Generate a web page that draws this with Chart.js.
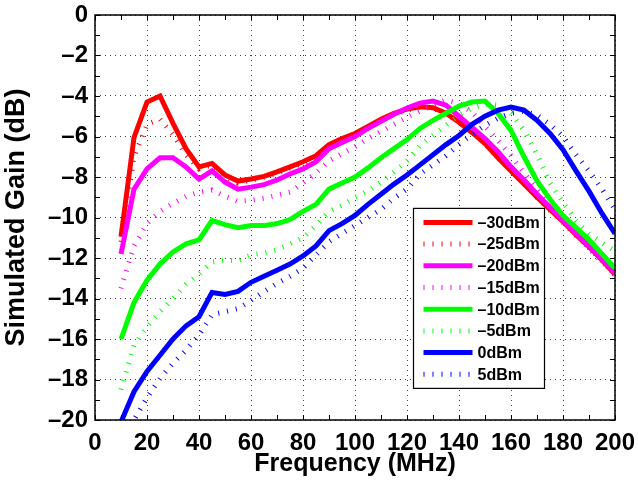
<!DOCTYPE html>
<html>
<head>
<meta charset="utf-8">
<script src="https://cdn.jsdelivr.net/npm/chart.js@4/dist/chart.umd.min.js"></script>
<style>
  body { margin: 0; background: #fff; }
  #grafico { display: block; }
</style>
</head>
<body>
<canvas id="grafico" width="638" height="485"></canvas>
<script>
// frecuencias (MHz)
var freq = [10, 15, 20, 25, 30, 35, 40, 45, 50, 55, 60, 65, 70, 75, 80, 85, 90, 95, 100, 105,
            110, 115, 120, 125, 130, 135, 140, 145, 150, 155, 160, 165, 170, 175, 180, 185, 190, 195, 200];

var nombres = ['-30dBm', '-25dBm', '-20dBm', '-15dBm', '-10dBm', '-5dBm', '0dBm', '5dBm'];

var g30 = [-10.95, -6.05, -4.3, -4.0, -5.35, -6.6, -7.5, -7.33, -7.9, -8.2, -8.1, -7.97, -7.75, -7.5, -7.25, -6.95, -6.4, -6.1, -5.85, -5.5,
           -5.15, -4.85, -4.65, -4.53, -4.58, -4.85, -5.3, -5.8, -6.35, -7.05, -7.7, -8.35, -9.0, -9.6, -10.2, -10.85, -11.45, -12.1, -12.8];
var g25 = [-11.2, -7.0, -5.4, -5.15, -5.9, -6.9, -7.6, -7.4, -8.0, -8.3, -8.15, -8.0, -7.8, -7.55, -7.3, -7.0, -6.45, -6.15, -5.9, -5.55,
           -5.2, -4.9, -4.7, -4.55, -4.6, -4.85, -5.3, -5.8, -6.35, -7.05, -7.7, -8.35, -9.0, -9.65, -10.25, -10.9, -11.5, -12.15, -12.85];
var g20 = [-11.8, -8.6, -7.6, -7.05, -7.05, -7.5, -8.1, -7.7, -8.25, -8.6, -8.5, -8.38, -8.15, -7.85, -7.6, -7.25, -6.6, -6.3, -6.0, -5.6,
           -5.25, -4.9, -4.6, -4.35, -4.25, -4.45, -5.0, -5.55, -6.1, -6.75, -7.5, -8.15, -8.85, -9.5, -10.15, -10.8, -11.4, -12.05, -12.75];
var g15 = [-13.5, -11.4, -10.3, -9.7, -9.3, -8.95, -8.75, -8.65, -8.95, -9.2, -9.15, -9.05, -8.9, -8.75, -8.3, -7.8, -7.2, -6.85, -6.5, -6.1,
           -5.75, -5.4, -5.05, -4.75, -4.45, -4.2, -4.35, -4.8, -5.5, -6.2, -6.95, -7.8, -8.6, -9.4, -10.1, -10.8, -11.55, -12.2, -12.8];
var g10 = [-16.0, -14.2, -13.1, -12.3, -11.7, -11.3, -11.1, -10.15, -10.35, -10.5, -10.4, -10.4, -10.3, -10.1, -9.7, -9.35, -8.6, -8.3, -8.0, -7.55,
           -7.05, -6.6, -6.15, -5.6, -5.2, -4.85, -4.5, -4.3, -4.25, -4.85, -5.7, -7.0, -8.2, -9.1, -9.9, -10.5, -11.1, -11.8, -12.5];
var g5 = [-18.5, -16.3, -15.4, -14.65, -14.0, -13.3, -12.8, -12.2, -12.1, -12.15, -11.85, -11.75, -11.6, -11.3, -11.0, -10.4, -9.7, -9.4, -9.0, -8.7,
          -8.25, -7.75, -7.2, -6.45, -5.95, -5.45, -4.95, -4.6, -4.4, -4.45, -4.85, -5.7, -6.9, -8.3, -9.25, -10.15, -10.8, -11.25, -11.65];
var g0 = [-20.1, -18.6, -17.6, -16.8, -16.0, -15.35, -14.9, -13.7, -13.8, -13.65, -13.2, -12.9, -12.6, -12.3, -11.9, -11.4, -10.65, -10.3, -9.9, -9.35,
          -8.85, -8.35, -7.9, -7.4, -6.9, -6.4, -5.95, -5.4, -5.0, -4.7, -4.55, -4.7, -5.2, -5.85, -6.65, -7.7, -8.7, -9.8, -10.8];
var gp5 = [-21.5, -20.0, -18.9, -17.95, -17.2, -16.55, -15.8, -14.8, -14.65, -14.5, -14.1, -13.65, -13.25, -12.9, -12.5, -11.85, -11.2, -10.8, -10.4, -10.0,
           -9.6, -9.05, -8.6, -7.85, -7.4, -6.95, -6.4, -5.9, -5.45, -5.1, -4.85, -4.75, -4.95, -5.4, -6.0, -6.9, -7.7, -8.6, -9.6];

// ejes
var xTicks = [0, 20, 40, 60, 80, 100, 120, 140, 160, 180, 200];
var yTicks = [0, -2, -4, -6, -8, -10, -12, -14, -16, -18, -20];

var series = [g30, g25, g20, g15, g10, g5, g0, gp5];
var colores = ['#ff0000', '#ff0000', '#ff00ff', '#ff00ff', '#00ff00', '#00ff00', '#0000ff', '#0000ff'];

var FUENTE = '"Liberation Sans", Arial, Helvetica, sans-serif';

function menos(s) {
    return String(s).replace('-', '\u2013');
}

function puntos(valores) {
    var p = [];
    for (var i = 0; i < freq.length; i++) {
        p.push({ x: freq[i], y: valores[i] });
    }
    return p;
}

var datasets = [];
for (var i = 0; i < series.length; i++) {
    var punteada = (i % 2 == 1);
    datasets.push({
        label: nombres[i],
        data: puntos(series[i]),
        borderColor: colores[i],
        borderWidth: punteada ? 5 : 5,
        borderDash: punteada ? [1, 8] : [],
        borderCapStyle: 'butt',
        borderJoinStyle: 'miter',
        pointRadius: 0,
        tension: 0,
        fill: false,
        clip: 0,
        order: series.length - i
    });
}

// marco, marcas hacia adentro y leyenda tipo matlab
var marcoPlugin = {
    id: 'marco',
    afterDatasetsDraw: function (chart) {
        var ctx = chart.ctx;
        var a = chart.chartArea;
        var xs = chart.scales.x, ys = chart.scales.y;
        ctx.save();
        ctx.strokeStyle = '#000';
        ctx.lineWidth = 1;
        var L = 5;
        ctx.beginPath();
        for (var v = 0; v <= 200; v += 10) {
            var px = Math.round(xs.getPixelForValue(v)) + 0.5;
            ctx.moveTo(px, a.bottom); ctx.lineTo(px, a.bottom - L);
            ctx.moveTo(px, a.top); ctx.lineTo(px, a.top + L);
        }
        for (var w = -20; w <= 0; w += 1) {
            var py = Math.round(ys.getPixelForValue(w)) + 0.5;
            ctx.moveTo(a.left, py); ctx.lineTo(a.left + L, py);
            ctx.moveTo(a.right, py); ctx.lineTo(a.right - L, py);
        }
        ctx.stroke();
        ctx.lineWidth = 1.5;
        ctx.strokeRect(a.left, a.top, a.right - a.left, a.bottom - a.top);

        // leyenda
        var lx = xs.getPixelForValue(122.5), ly = ys.getPixelForValue(-9.55);
        var ancho = 131, alto = 180, fila = 21.7;
        ctx.fillStyle = '#fff';
        ctx.fillRect(lx, ly, ancho, alto);
        ctx.lineWidth = 1.2;
        ctx.strokeRect(lx, ly, ancho, alto);
        ctx.font = 'bold 16px ' + FUENTE;
        ctx.textBaseline = 'middle';
        ctx.textAlign = 'left';
        chart.data.datasets.forEach(function (ds, k) {
            var yy = ly + 14 + k * fila;
            ctx.beginPath();
            ctx.strokeStyle = ds.borderColor;
            ctx.lineWidth = ds.borderWidth;
            ctx.lineCap = 'butt';
            ctx.setLineDash(ds.borderDash);
            ctx.moveTo(lx + 10, yy);
            ctx.lineTo(lx + 59, yy);
            ctx.stroke();
            ctx.setLineDash([]);
            ctx.fillStyle = '#000';
            ctx.fillText(menos(ds.label), lx + 64, yy + 1);
        });
        ctx.restore();
    }
};

var fondoPlugin = {
    id: 'fondo',
    beforeDraw: function (chart) {
        var ctx = chart.ctx;
        ctx.save();
        ctx.fillStyle = '#fff';
        ctx.fillRect(0, 0, chart.width, chart.height);
        ctx.restore();
    }
};

var ctx = document.getElementById('grafico').getContext('2d');
var chart = new Chart(ctx, {
    type: 'line',
    data: { datasets: datasets },
    plugins: [fondoPlugin, marcoPlugin],
    options: {
        responsive: false,
        animation: false,
        layout: { padding: { left: 0, top: 15, right: 23, bottom: 0 } },
        plugins: { legend: { display: false }, tooltip: { enabled: false } },
        scales: {
            x: {
                type: 'linear',
                min: 0,
                max: 200,
                afterFit: function (s) { s.height = 65; s.paddingLeft = 0; s.paddingRight = 0; },
                afterBuildTicks: function (s) { s.ticks = xTicks.map(function (v) { return { value: v }; }); },
                grid: { color: 'rgba(0,0,0,0.75)', lineWidth: 1, drawTicks: false },
                border: { display: false, dash: [1, 4] },
                ticks: { color: '#000', padding: 9, maxRotation: 0, font: { family: FUENTE, size: 24, weight: 'bold' } },
                title: { display: true, text: 'Frequency (MHz)', color: '#000', padding: { top: 0, bottom: 6 }, font: { family: FUENTE, size: 25, weight: 'bold' } }
            },
            y: {
                type: 'linear',
                min: -20,
                max: 0,
                afterFit: function (s) { s.width = 95; s.paddingTop = 0; s.paddingBottom = 0; },
                afterBuildTicks: function (s) { s.ticks = yTicks.map(function (v) { return { value: v }; }); },
                grid: { color: 'rgba(0,0,0,0.75)', lineWidth: 1, drawTicks: false },
                border: { display: false, dash: [1, 4] },
                ticks: { color: '#000', padding: 7, font: { family: FUENTE, size: 24, weight: 'bold' },
                         callback: function (v) { return menos(v); } },
                title: { display: true, text: 'Simulated Gain (dB)', color: '#000', padding: { top: 0, bottom: 1 }, font: { family: FUENTE, size: 27, weight: 'bold' } }
            }
        }
    }
});
</script>
</body>
</html>
